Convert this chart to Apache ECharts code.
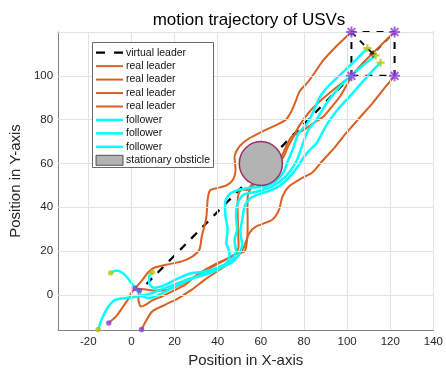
<!DOCTYPE html>
<html>
<head>
<meta charset="utf-8">
<script src="https://cdn.jsdelivr.net/npm/echarts@6/dist/echarts.min.js"></script>
<style>html,body{margin:0;padding:0;background:#fff}#c{width:446px;height:374px}</style>
</head>
<body>
<div id="c"></div>
<script>
// ---- tick labels / grid ----
var xTicks = [-20, 0, 20, 40, 60, 80, 100, 120, 140];
var yTicks = [0, 20, 40, 60, 80, 100];
var yGrid = [0, 20, 40, 60, 80, 100, 120];

// ---- virtual leader and formation ----
var virtualPath = [[7, 5], [112, 110]];
var formationSquare = [[102, 100], [122, 100], [122, 120], [102, 120], [102, 100]];
var formationDiag = [[102, 120], [112, 110], [122, 120]];
var formationCenter = [[112, 110]];

// ---- real leaders ----
var leader1 = [[1.7,3],[3,4.5],[5.2,7],[7.5,10],[10.5,12.4],[16,13.8],[23,15.2],[28,17.4],[31.5,20.6],[32.6,26.7],[34,32],[34.8,36],[35.4,44],[36.5,47.8],[40,48.8],[44,50],[47,52.5],[48.3,57],[47.8,63],[50,67.7],[54.7,71.5],[62.2,75.3],[71.4,79.8],[74,83.5],[76,88],[78,93],[81.3,96.5],[85,101.5],[88.9,107],[95,113.5],[102,120]];
var leader2 = [[4.7,-15.8],[6.7,-12],[9.7,-7.5],[15.8,-4.4],[21.9,-1.4],[28,2.4],[34.1,7],[43.2,13],[49.3,17.6],[52,21.5],[54.6,28.2],[57.7,31.2],[65.3,34.3],[68.4,38.8],[70,44.9],[73,49.5],[79,53.3],[84,56],[88.9,61.6],[94,67],[99.5,73.8],[105,80],[111.7,87.4],[117,94],[122,100]];
var leader3 = [[3.7,2],[3.2,-1.5],[4.4,-5.3],[6.7,-4.4],[9.7,-2.5],[14.3,-0.6],[18.9,1.6],[25,4.7],[29.5,8.5],[35,12],[42,15.5],[47.5,18],[49.7,22],[49.4,32],[49.2,42],[49.8,46.5],[51.5,48.2],[53.5,47.8],[55.5,50],[60,53.5],[66,58],[70.5,63],[72.5,67.5],[75,72],[78,77.5],[82,83],[86,87.2],[91,91.5],[96,95.5],[102,100]];
var leader4 = [[-10.5,-12.8],[-7,-9.7],[-4,-5.5],[-1.2,-1.5],[0,1],[2,2.8],[6,2.6],[10,2],[15,2],[20,3.5],[26.5,6.5],[34.1,11],[41.7,15],[48,18.5],[52.5,20],[53.6,25],[53.9,31.2],[53.8,40],[54,45.5],[56,49.5],[60,53],[65,57],[69,62],[71.4,67],[74,72],[79.8,75.3],[84.3,78.3],[88.9,81.3],[93,86],[97,91],[102.6,100.5],[107,105.5],[111.7,110.2],[116,114.3],[122,120]];

// ---- followers ----
var follower1 = [[-15.4,-15.8],[-13.8,-11.2],[-11.6,-6.7],[-9.3,-3.6],[-7,-2.1],[-2.4,-1.4],[3.7,-0.6],[9.7,0.9],[15.8,3.2],[21.9,5.5],[28,7.7],[34.1,9.2],[40.2,11.5],[44.5,15],[45.5,19],[44,24],[44.6,30],[43.6,36],[43.4,42],[45.5,46],[50,48],[56,49],[62,49.5],[67,52],[70.5,56],[72.5,61],[75,67],[77.5,73.8],[81.3,78],[84.5,84],[87.4,90.4],[91,95],[95,98.8],[100,103.5],[105,108.2],[109.4,112.6]];
var follower2 = [[-9.6,10],[-7,11.2],[-4,10],[-1.7,7.7],[0.6,4.7],[2.9,1.6],[5.2,-0.6],[8.2,-1.4],[12.8,0.1],[18.9,3.2],[26,6.5],[33,9.5],[40,12.5],[46,15.5],[48.5,20],[47.8,25],[49,30],[48.5,36],[49.3,42],[52,45.8],[57.7,47],[65.3,49.5],[71.4,54],[76,60],[79,67.7],[82,75.3],[85.5,79.5],[90.4,87.4],[94,92],[98,96.5],[103,101],[108,105.3],[113.2,109.3]];
var follower3 = [[9.7,10.3],[8.2,8.5],[8.2,5.5],[10.5,3.2],[15.8,4.7],[21.9,7.7],[28,10],[34.1,10.7],[40.2,12.3],[46.3,14.6],[49.5,18],[51.3,23],[50.5,29],[51.5,35],[52.5,40.5],[55,44],[59,46],[64,47.5],[69,50],[73.5,54],[77,58.5],[80,63],[82.5,66],[85.8,69.2],[89,75],[91.9,79.8],[96,85],[101,90.4],[106,96],[111,101.5],[115.5,106]];

// ---- markers ----
var leaderStarts = [[-10.5,-12.8],[1.7,3],[3.7,2],[4.7,-15.8]];
var followerStarts = [[-15.4,-15.8],[-9.6,10],[9.7,10.3]];
var leaderEnds = [[102,120],[122,120],[102,100],[122,100]];
var followerEnds = [[109.4,112.6],[113.2,109.3],[115.5,106]];

// ---- obstacle: [cx, cy, r] ----
var obstacle = [[60, 60, 10]];

// ---- legend ----
var legendLabels = ['virtual leader','real leader','real leader','real leader','real leader','follower','follower','follower','stationary obsticle'];

var ORANGE = '#D9601F', CYAN = '#00FFFF', PURPLE = '#8A3DD6', YELLOW = '#C0C000';
var FONT = 'Liberation Sans, Arial, Helvetica, sans-serif';

var chart = echarts.init(document.getElementById('c'), null, {renderer: 'canvas'});

function lineSeries(data, color, width, type, z) {
  return {
    type: 'line', data: data, showSymbol: false, symbol: 'none', smooth: 0.25,
    lineStyle: {color: color, width: width, type: type || 'solid'},
    silent: true, z: z, animation: false
  };
}

var gridMarks = xTicks.map(function (v) { return {xAxis: v}; })
  .concat(yGrid.map(function (v) { return {yAxis: v}; }));

var series = [
  {
    type: 'line', data: [], z: 0, silent: true, animation: false,
    markLine: {
      silent: true, symbol: ['none', 'none'], label: {show: false}, animation: false,
      lineStyle: {color: '#e2e2e2', width: 1, type: 'solid'},
      emphasis: {disabled: true},
      data: gridMarks
    }
  },
  lineSeries(virtualPath, '#000', 2.3, [8, 8], 1),
  Object.assign(lineSeries(formationSquare, '#000', 2, [7, 7], 1), {smooth: false}),
  Object.assign(lineSeries(formationDiag, '#000', 1.8, [6, 6], 1), {smooth: false}),
  lineSeries(leader1, ORANGE, 2, null, 2),
  lineSeries(leader2, ORANGE, 2, null, 2),
  lineSeries(leader3, ORANGE, 2, null, 2),
  lineSeries(leader4, ORANGE, 2, null, 2),
  lineSeries(follower1, CYAN, 2.5, null, 3),
  lineSeries(follower2, CYAN, 2.5, null, 3),
  lineSeries(follower3, CYAN, 2.5, null, 3),
  {
    type: 'custom', data: obstacle, z: 5, silent: true, animation: false,
    renderItem: function (params, api) {
      var c = api.coord([api.value(0), api.value(1)]);
      var s = api.size([api.value(2), api.value(2)]);
      return {
        type: 'ellipse',
        shape: {cx: c[0], cy: c[1], rx: s[0], ry: s[1]},
        style: {fill: '#B3B3B3', stroke: '#9A2F62', lineWidth: 1.5}
      };
    }
  },
  {type: 'scatter', data: leaderStarts, symbol: 'circle', symbolSize: 5.5, itemStyle: {color: PURPLE}, z: 6, silent: true, animation: false},
  {type: 'scatter', data: followerStarts, symbol: 'circle', symbolSize: 5.5, itemStyle: {color: YELLOW}, z: 6, silent: true, animation: false},
  {type: 'scatter', data: leaderEnds, symbol: 'path://M0,5L10,5M5,0L5,10M1.5,1.5L8.5,8.5M8.5,1.5L1.5,8.5', symbolSize: 11,
   itemStyle: {color: 'rgba(0,0,0,0)', borderColor: PURPLE, borderWidth: 2}, z: 7, silent: true, animation: false},
  {type: 'scatter', data: followerEnds, symbol: 'path://M0,5L10,5M5,0L5,10', symbolSize: 8,
   itemStyle: {color: 'rgba(0,0,0,0)', borderColor: YELLOW, borderWidth: 2.2}, z: 7, silent: true, animation: false},
  {type: 'scatter', data: formationCenter, symbol: 'path://M0,5L10,5M5,0L5,10', symbolSize: 7,
   itemStyle: {color: 'rgba(0,0,0,0)', borderColor: '#000', borderWidth: 1.5}, z: 6, silent: true, animation: false}
];

// legend graphic
var lg = [];
var lx = 92.5, ly = 42.5, rowH = 13.45, y0 = 52.7;
lg.push({type: 'rect', shape: {x: lx, y: ly, width: 121, height: 125}, style: {fill: '#fff', stroke: '#404040', lineWidth: 0.8}, z: 100});
legendLabels.forEach(function (t, i) {
  var yy = y0 + i * rowH;
  if (i === 0) {
    lg.push({type: 'line', shape: {x1: 96, y1: yy, x2: 123, y2: yy}, style: {stroke: '#000', lineWidth: 2.3, lineDash: [9, 9]}, z: 101});
  } else if (i < 5) {
    lg.push({type: 'line', shape: {x1: 96, y1: yy, x2: 123, y2: yy}, style: {stroke: ORANGE, lineWidth: 2}, z: 101});
  } else if (i < 8) {
    lg.push({type: 'line', shape: {x1: 96, y1: yy, x2: 123, y2: yy}, style: {stroke: CYAN, lineWidth: 2.5}, z: 101});
  } else {
    lg.push({type: 'rect', shape: {x: 96, y: yy - 5, width: 27, height: 10}, style: {fill: '#B3B3B3', stroke: '#333', lineWidth: 0.8}, z: 101});
  }
  lg.push({type: 'text', x: 126, y: yy, style: {text: t, fill: '#111', font: '10.5px ' + FONT, textVerticalAlign: 'middle', textAlign: 'left'}, z: 101});
});
lg.push({type: 'text', x: 249, y: 20, style: {text: 'motion trajectory of USVs', fill: '#000', font: '17px ' + FONT, textAlign: 'center', textVerticalAlign: 'middle'}, z: 101});

function axisCommon(pos, ticks, showLabel) {
  return {
    type: 'value', position: pos,
    axisLine: {show: true, onZero: false, lineStyle: {color: '#808080', width: 1}},
    axisTick: {show: true, inside: true, length: 4, customValues: ticks, lineStyle: {color: '#808080', width: 1}},
    axisLabel: {show: showLabel, customValues: ticks, color: '#262626', fontSize: 11.5, fontFamily: FONT},
    splitLine: {show: false}
  };
}

var xMain = axisCommon('bottom', xTicks, true);
Object.assign(xMain, {min: -34, max: 140, name: 'Position in X-axis', nameLocation: 'middle', nameGap: 21,
  nameTextStyle: {fontSize: 15, color: '#262626', fontFamily: FONT}});
xMain.axisLabel.margin = 6;
var xTop = axisCommon('top', xTicks, false); Object.assign(xTop, {min: -34, max: 140});
var yMain = axisCommon('left', yTicks, true);
Object.assign(yMain, {min: -16, max: 120, name: 'Position in Y-axis', nameLocation: 'middle', nameGap: 25,
  nameTextStyle: {fontSize: 15, color: '#262626', fontFamily: FONT}});
yMain.axisLabel.margin = 5;
var yRight = axisCommon('right', yTicks, false); Object.assign(yRight, {min: -16, max: 120});

chart.setOption({
  animation: false,
  backgroundColor: '#fff',
  grid: {left: 58, right: 7, top: 32, bottom: 44, containLabel: false},
  xAxis: [xMain, xTop],
  yAxis: [yMain, yRight],
  series: series,
  graphic: lg
});
</script>
</body>
</html>
